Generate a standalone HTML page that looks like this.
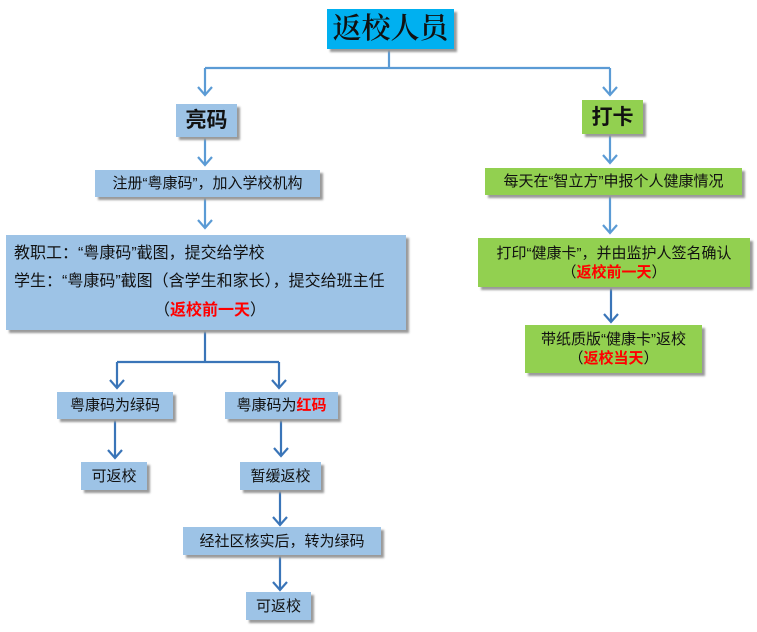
<!DOCTYPE html>
<html><head><meta charset="utf-8"><style>
body{margin:0;width:757px;height:632px;background:#fff;position:relative;overflow:hidden;font-family:"Liberation Sans","Noto Sans CJK SC",sans-serif;color:#111}
.b{position:absolute;box-sizing:border-box;display:flex;flex-direction:column;align-items:center;justify-content:center;text-align:center;box-shadow:3px 3px 2px #9a9a9a;font-size:15px;line-height:19px;white-space:nowrap}
.bl{background:#9dc3e6}.gr{background:#92d050}
.r{color:#ff0000;font-weight:bold}
svg{position:absolute;left:0;top:0}
</style></head><body>
<svg width="757" height="632" fill="none" stroke-width="2.2">
<g stroke="#5b9bd5">
<path d="M389 49V68M205 68H610M205 68V95M610 68V95"/>
<path d="M198 87l7 8 7-8M603 87l7 8 7-8"/>
<path d="M205 137V165M198 157l7 8 7-8"/>
<path d="M205 197V228M198 220l7 8 7-8"/>
<path d="M610 134V163M603 155l7 8 7-8"/>
<path d="M610 195V233M603 225l7 8 7-8"/>
</g>
<g stroke="#3a75b8">
<path d="M205 330V362M117 362H279M117 362V388M279 362V388"/>
<path d="M110 380l7 8 7-8M272 380l7 8 7-8"/>
<path d="M115 419V458M108 450l7 8 7-8"/>
<path d="M281 419V456M274 448l7 8 7-8"/>
<path d="M280 490V525M273 517l7 8 7-8"/>
<path d="M280 555V590M273 582l7 8 7-8"/>
<path d="M611 287V322M604 314l7 8 7-8"/>
</g>
</svg>
<div class="b" style="left:327px;top:9px;width:127px;height:40px;background:#00b0f0;font-family:'Liberation Serif','Noto Serif CJK SC',serif;font-size:29px;font-weight:600">返校人员</div>
<div class="b bl" style="left:176px;top:104px;width:61px;height:33px;font-size:21px;font-weight:bold">亮码</div>
<div class="b gr" style="left:582px;top:100px;width:61px;height:34px;font-size:21px;font-weight:bold">打卡</div>
<div class="b bl" style="left:95px;top:170px;width:225px;height:27px">注册“粤康码”，加入学校机构</div>
<div class="b bl" style="left:6px;top:235px;width:400px;height:95px;align-items:flex-start;font-size:16px;line-height:28.5px;padding-left:8px">
<div>教职工：“粤康码”截图，提交给学校</div>
<div>学生：“粤康码”截图（含学生和家长），提交给班主任</div>
<div style="align-self:center">（<span class="r">返校前一天</span>）</div></div>
<div class="b bl" style="left:57px;top:392px;width:116px;height:27px">粤康码为绿码</div>
<div class="b bl" style="left:225px;top:392px;width:113px;height:27px">粤康码为<span class="r" style="display:contents">红码</span></div>
<div class="b bl" style="left:81px;top:462px;width:66px;height:28px">可返校</div>
<div class="b bl" style="left:240px;top:462px;width:81px;height:28px">暂缓返校</div>
<div class="b bl" style="left:183px;top:527px;width:198px;height:28px">经社区核实后，转为绿码</div>
<div class="b bl" style="left:246px;top:592px;width:65px;height:28px">可返校</div>
<div class="b gr" style="left:485px;top:168px;width:257px;height:27px">每天在“智立方”申报个人健康情况</div>
<div class="b gr" style="left:478px;top:238px;width:272px;height:49px"><div>打印“健康卡”，并由监护人签名确认</div><div>（<span class="r">返校前一天</span>）</div></div>
<div class="b gr" style="left:525px;top:325px;width:177px;height:48px"><div>带纸质版“健康卡”返校</div><div>（<span class="r">返校当天</span>）</div></div>
</body></html>
